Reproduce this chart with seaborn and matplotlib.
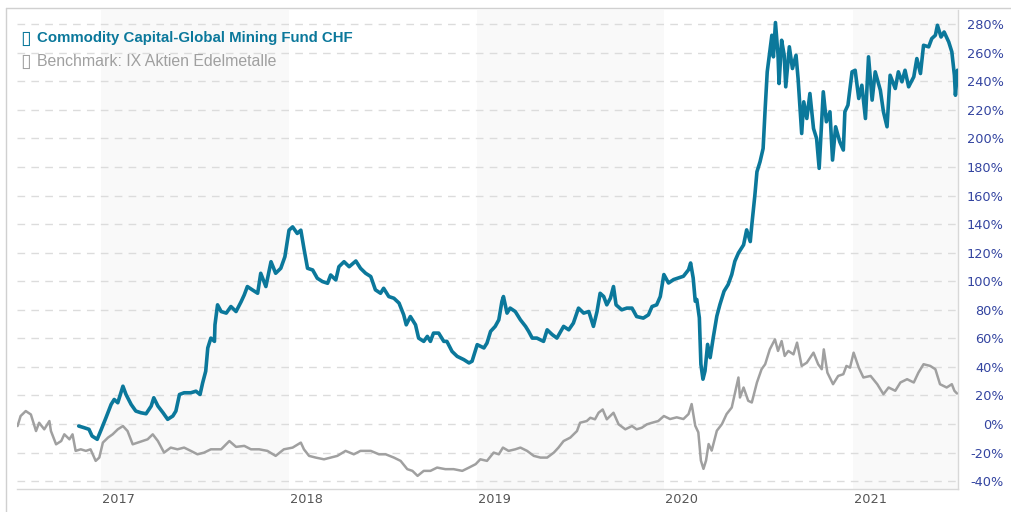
import pandas as pd
import numpy as np
import matplotlib
matplotlib.use("Agg")
import matplotlib.pyplot as plt
import matplotlib.transforms as mtransforms
from matplotlib.lines import Line2D
import seaborn as sns

# fund: Commodity Capital-Global Mining Fund CHF (performance in %)
fund_dates = [
    "2016-11-18", "2016-11-28", "2016-12-08", "2016-12-14", "2016-12-24", "2017-01-01",
    "2017-01-10", "2017-01-20", "2017-01-26", "2017-02-02", "2017-02-12", "2017-02-18",
    "2017-02-28", "2017-03-09", "2017-03-19", "2017-03-29", "2017-04-08", "2017-04-13",
    "2017-04-21", "2017-05-01", "2017-05-10", "2017-05-20", "2017-05-26", "2017-06-02",
    "2017-06-11", "2017-06-24", "2017-07-04", "2017-07-12", "2017-07-17", "2017-07-23",
    "2017-07-27", "2017-08-02", "2017-08-09", "2017-08-10", "2017-08-15", "2017-08-22",
    "2017-09-01", "2017-09-10", "2017-09-20", "2017-09-30", "2017-10-06", "2017-10-12",
    "2017-10-22", "2017-11-01", "2017-11-07", "2017-11-17", "2017-11-27", "2017-12-06",
    "2017-12-16", "2017-12-24", "2018-01-01", "2018-01-08", "2018-01-17", "2018-01-24",
    "2018-01-30", "2018-02-06", "2018-02-16", "2018-02-25", "2018-03-07", "2018-03-17",
    "2018-03-23", "2018-04-02", "2018-04-08", "2018-04-18", "2018-04-28", "2018-05-11",
    "2018-05-20", "2018-05-30", "2018-06-09", "2018-06-18", "2018-06-28", "2018-07-04",
    "2018-07-14", "2018-07-24", "2018-08-03", "2018-08-12", "2018-08-17", "2018-08-25",
    "2018-09-04", "2018-09-10", "2018-09-20", "2018-09-27", "2018-10-03", "2018-10-09",
    "2018-10-19", "2018-10-29", "2018-11-04", "2018-11-14", "2018-11-24", "2018-12-07",
    "2018-12-17", "2018-12-23", "2019-01-02", "2019-01-15", "2019-01-21", "2019-01-28",
    "2019-02-06", "2019-02-13", "2019-02-19", "2019-02-22", "2019-03-01", "2019-03-07",
    "2019-03-17", "2019-03-27", "2019-04-06", "2019-04-12", "2019-04-19", "2019-04-28",
    "2019-05-11", "2019-05-18", "2019-05-28", "2019-06-06", "2019-06-19", "2019-06-29",
    "2019-07-08", "2019-07-18", "2019-07-28", "2019-08-07", "2019-08-16", "2019-08-23",
    "2019-08-29", "2019-09-05", "2019-09-11", "2019-09-18", "2019-09-24", "2019-09-29",
    "2019-10-10", "2019-10-20", "2019-10-30", "2019-11-08", "2019-11-21", "2019-12-01",
    "2019-12-08", "2019-12-17", "2019-12-24", "2019-12-31", "2020-01-09", "2020-01-19",
    "2020-01-28", "2020-02-07", "2020-02-17", "2020-02-21", "2020-02-26", "2020-03-01",
    "2020-03-04", "2020-03-09", "2020-03-12", "2020-03-16", "2020-03-20", "2020-03-25",
    "2020-03-30", "2020-04-05", "2020-04-12", "2020-04-18", "2020-04-26", "2020-05-04",
    "2020-05-11", "2020-05-17", "2020-05-24", "2020-06-03", "2020-06-09", "2020-06-16",
    "2020-06-19", "2020-06-25", "2020-06-29", "2020-07-05", "2020-07-11", "2020-07-15",
    "2020-07-19", "2020-07-24", "2020-07-28", "2020-07-31", "2020-08-04", "2020-08-09",
    "2020-08-11", "2020-08-16", "2020-08-21", "2020-08-24", "2020-08-31", "2020-09-06",
    "2020-09-13", "2020-09-17", "2020-09-24", "2020-09-28", "2020-10-04", "2020-10-10",
    "2020-10-17", "2020-10-23", "2020-10-28", "2020-11-05", "2020-11-11", "2020-11-18",
    "2020-11-23", "2020-11-29", "2020-12-07", "2020-12-14", "2020-12-17", "2020-12-23",
    "2020-12-31", "2021-01-06", "2021-01-13", "2021-01-19", "2021-01-26", "2021-02-01",
    "2021-02-08", "2021-02-14", "2021-02-24", "2021-03-02", "2021-03-09", "2021-03-15",
    "2021-03-25", "2021-03-31", "2021-04-07", "2021-04-13", "2021-04-20", "2021-04-30",
    "2021-05-06", "2021-05-13", "2021-05-19", "2021-05-29", "2021-06-04", "2021-06-11",
    "2021-06-15", "2021-06-22", "2021-06-28", "2021-07-07", "2021-07-13", "2021-07-18",
    "2021-07-20", "2021-07-24",
]
fund_values = [
    -1.4, -2.5, -3.7, -8.4, -10.7, -3.7,
    4.4, 13.7, 17.2, 14.9, 26.5, 20.7,
    13.7, 9.1, 7.9, 7.2, 12.6, 18.4,
    12.6, 7.9, 3.3, 5.6, 9.1, 20.7,
    21.9, 21.9, 23.0, 20.7, 28.8, 37.0,
    53.3, 60.2, 57.9, 69.5, 83.5, 78.8,
    77.7, 82.3, 78.8, 85.8, 90.5, 96.3,
    93.9, 91.6, 105.6, 96.3, 113.7, 105.6,
    109.1, 117.2, 135.8, 138.1, 133.5, 135.8,
    123.0, 109.1, 107.9, 102.1, 99.8, 98.6,
    104.4, 100.9, 110.2, 113.7, 110.2, 114.2,
    109.1, 105.6, 103.3, 94.0, 91.6, 95.1,
    89.3, 88.1, 84.7, 76.5, 69.5, 75.3,
    69.5, 60.2, 57.9, 61.4, 57.9, 63.7,
    63.7, 57.9, 57.9, 50.9, 47.4, 45.1,
    42.8, 44.0, 55.6, 53.3, 56.7, 64.9,
    68.4, 73.0, 85.8, 89.3, 77.7, 81.2,
    78.8, 73.0, 68.4, 64.9, 60.2, 60.2,
    57.9, 66.0, 62.6, 60.2, 68.4, 66.0,
    70.7, 81.2, 77.7, 78.8, 68.4, 78.8,
    91.6, 89.3, 83.5, 88.1, 96.3, 83.5,
    80.0, 81.2, 81.2, 75.3, 74.2, 76.5,
    82.3, 83.5, 89.3, 104.7, 98.8, 101.2,
    102.3, 103.5, 108.1, 112.8, 102.3, 86.0,
    87.2, 74.4, 41.9, 31.4, 37.2, 55.8,
    46.5, 60.5, 75.6, 83.7, 93.0, 97.7,
    104.7, 114.0, 119.8, 125.5, 136.0, 127.8,
    139.4, 160.4, 176.7, 183.7, 193.0, 221.0,
    246.7, 260.7, 272.3, 257.2, 281.2, 258.3,
    238.5, 268.8, 258.3, 236.2, 264.2, 249.0,
    258.3, 242.0, 203.5, 225.7, 214.0, 231.5,
    207.0, 200.0, 179.1, 232.7, 211.7, 218.7,
    184.9, 208.2, 197.7, 191.9, 218.7, 223.4,
    246.7, 247.8, 228.0, 237.3, 214.0, 257.2,
    226.9, 246.7, 233.8, 218.7, 208.2, 244.3,
    235.0, 246.7, 239.7, 247.8, 236.2, 243.2,
    256.0, 245.5, 265.3, 264.2, 270.0, 272.3,
    279.3, 271.1, 274.6, 267.6, 260.7, 244.3,
    230.3, 247.8,
]

# benchmark: IX Aktien Edelmetalle (performance in %)
bench_dates = [
    "2016-07-22", "2016-07-28", "2016-08-07", "2016-08-17", "2016-08-27", "2016-09-02",
    "2016-09-12", "2016-09-22", "2016-09-25", "2016-10-05", "2016-10-15", "2016-10-21",
    "2016-10-31", "2016-11-06", "2016-11-12", "2016-11-22", "2016-12-02", "2016-12-11",
    "2016-12-21", "2016-12-28", "2017-01-04", "2017-01-14", "2017-01-23", "2017-02-02",
    "2017-02-12", "2017-02-21", "2017-03-03", "2017-03-13", "2017-03-22", "2017-04-01",
    "2017-04-11", "2017-04-21", "2017-05-03", "2017-05-16", "2017-05-29", "2017-06-11",
    "2017-06-24", "2017-07-07", "2017-07-20", "2017-08-02", "2017-08-22", "2017-09-07",
    "2017-09-20", "2017-10-06", "2017-10-19", "2017-11-04", "2017-11-20", "2017-12-06",
    "2017-12-22", "2018-01-08", "2018-01-24", "2018-01-30", "2018-02-09", "2018-02-22",
    "2018-03-10", "2018-03-23", "2018-04-05", "2018-04-21", "2018-05-07", "2018-05-20",
    "2018-06-09", "2018-06-25", "2018-07-08", "2018-07-24", "2018-08-06", "2018-08-19",
    "2018-08-29", "2018-09-08", "2018-09-20", "2018-10-03", "2018-10-16", "2018-11-01",
    "2018-11-17", "2018-12-04", "2018-12-17", "2018-12-30", "2019-01-08", "2019-01-21",
    "2019-02-03", "2019-02-13", "2019-02-21", "2019-03-04", "2019-03-17", "2019-03-27",
    "2019-04-09", "2019-04-22", "2019-05-05", "2019-05-18", "2019-05-31", "2019-06-09",
    "2019-06-19", "2019-07-02", "2019-07-15", "2019-07-21", "2019-08-03", "2019-08-10",
    "2019-08-19", "2019-08-26", "2019-09-03", "2019-09-11", "2019-09-24", "2019-10-04",
    "2019-10-17", "2019-10-30", "2019-11-08", "2019-11-18", "2019-11-28", "2019-12-08",
    "2019-12-20", "2019-12-31", "2020-01-12", "2020-01-25", "2020-02-07", "2020-02-17",
    "2020-02-23", "2020-03-01", "2020-03-07", "2020-03-12", "2020-03-17", "2020-03-22",
    "2020-03-27", "2020-04-02", "2020-04-12", "2020-04-22", "2020-05-01", "2020-05-11",
    "2020-05-21", "2020-05-24", "2020-05-27", "2020-06-03", "2020-06-12", "2020-06-19",
    "2020-06-29", "2020-07-08", "2020-07-15", "2020-07-24", "2020-08-03", "2020-08-09",
    "2020-08-16", "2020-08-22", "2020-08-29", "2020-09-08", "2020-09-15", "2020-09-24",
    "2020-10-04", "2020-10-17", "2020-10-26", "2020-11-02", "2020-11-06", "2020-11-13",
    "2020-11-24", "2020-12-04", "2020-12-14", "2020-12-20", "2020-12-27", "2021-01-03",
    "2021-01-13", "2021-01-22", "2021-02-05", "2021-02-18", "2021-03-02", "2021-03-12",
    "2021-03-25", "2021-04-04", "2021-04-17", "2021-04-30", "2021-05-09", "2021-05-19",
    "2021-06-01", "2021-06-11", "2021-06-20", "2021-07-03", "2021-07-13", "2021-07-18",
    "2021-07-23",
]
bench_values = [
    -1.4, 5.6, 9.1, 6.7, -4.9, 0.9,
    -3.7, 2.1, -4.9, -14.2, -11.9, -7.2,
    -10.7, -7.2, -18.8, -17.7, -18.8, -17.7,
    -25.8, -23.5, -13.0, -9.5, -7.2, -3.7,
    -1.4, -4.9, -14.2, -13.0, -11.9, -10.7,
    -7.2, -11.9, -20.0, -16.5, -17.7, -16.5,
    -18.8, -21.2, -20.0, -17.7, -17.7, -11.9,
    -16.0, -15.3, -17.7, -17.7, -18.8, -22.3,
    -17.7, -16.5, -13.0, -17.7, -22.3, -23.5,
    -24.7, -23.5, -22.3, -18.8, -21.2, -18.8,
    -18.8, -21.2, -21.2, -23.5, -25.8, -31.6,
    -32.8, -36.3, -32.8, -32.8, -30.5, -31.6,
    -31.6, -32.8, -30.5, -28.1, -24.7, -25.8,
    -20.0, -21.2, -16.5, -18.8, -17.7, -16.5,
    -18.8, -22.3, -23.5, -23.5, -20.0, -16.5,
    -11.9, -9.5, -4.9, 0.9, 2.1, 4.4,
    3.3, 7.9, 10.2, 3.3, 7.9, -0.2,
    -3.7, -1.4, -3.7, -2.6, -0.2, 0.9,
    2.1, 5.6, 3.5, 4.7, 3.5, 7.0,
    14.0, -1.2, -5.8, -25.6, -31.4, -25.6,
    -14.0, -18.6, -4.7, 0.0, 7.0, 11.6,
    27.9, 32.6, 18.6, 25.6, 16.3, 15.1,
    29.1, 38.4, 41.9, 52.3, 59.3, 51.2,
    58.1, 47.7, 51.2, 48.8, 57.0, 40.7,
    43.0, 50.0, 41.9, 38.4, 52.3, 36.0,
    27.9, 33.7, 34.9, 40.7, 39.5, 50.0,
    39.5, 32.6, 33.7, 27.9, 20.9, 25.6,
    23.3, 29.1, 31.4, 29.1, 36.0, 41.9,
    40.7, 38.4, 27.9, 25.6, 27.9, 23.3,
    21.4,
]

fund_label = "Commodity Capital-Global Mining Fund CHF"
bench_label = "Benchmark: IX Aktien Edelmetalle"
years = [2017, 2018, 2019, 2020, 2021]
shaded_years = [2017, 2019, 2021]
y_ticks = list(range(-40, 281, 20))

fund_color = "#0b789b"
bench_color = "#a0a0a0"

fund = pd.DataFrame({"date": pd.to_datetime(fund_dates), "pct": fund_values})
bench = pd.DataFrame({"date": pd.to_datetime(bench_dates), "pct": bench_values})

sns.set_style("white")
plt.rcParams["font.family"] = ["DejaVu Sans"]

fig = plt.figure(figsize=(10.11, 5.12), dpi=100)
ax = fig.add_axes([17 / 1011, 23 / 512, 941 / 1011, 479 / 512])

x_left = pd.Timestamp("2016-07-21")
x_right = pd.Timestamp("2021-07-25")

for y in shaded_years:
    ax.axvspan(pd.Timestamp(f"{y}-01-01"), min(pd.Timestamp(f"{y + 1}-01-01"), x_right),
               color="#f9f9f9", zorder=0, lw=0)

for t in y_ticks:
    ax.axhline(t, color="#dcdcdc", lw=1, linestyle=(0, (5.5, 4.5)), zorder=1)

sns.lineplot(data=bench, x="date", y="pct", ax=ax, color=bench_color, lw=1.8,
             estimator=None, sort=False, zorder=3)
sns.lineplot(data=fund, x="date", y="pct", ax=ax, color=fund_color, lw=2.6,
             estimator=None, sort=False, zorder=4)

ax.set_xlim(x_left, x_right)
ax.set_ylim(-45.5, 290)
ax.set_xlabel("")
ax.set_ylabel("")

# right side percent axis
ax.yaxis.tick_right()
ax.set_yticks(y_ticks)
ax.set_yticklabels([f"{t}%" for t in y_ticks])
ax.tick_params(axis="y", length=0, pad=33, labelsize=9.3, labelcolor="#3344a0")
for lab in ax.get_yticklabels():
    lab.set_horizontalalignment("right")

# year labels, left aligned at the start of each year
ax.set_xticks([pd.Timestamp(f"{y}-01-01") for y in years])
ax.set_xticklabels([str(y) for y in years])
ax.tick_params(axis="x", length=0, pad=3, labelsize=9.3, labelcolor="#555555")
offset = mtransforms.ScaledTranslation(1 / 100, 0, fig.dpi_scale_trans)
for lab in ax.get_xticklabels():
    lab.set_horizontalalignment("left")
    lab.set_transform(lab.get_transform() + offset)

for side in ["top", "left"]:
    ax.spines[side].set_visible(False)
for side in ["right", "bottom"]:
    ax.spines[side].set_color("#d8d8d8")
    ax.spines[side].set_linewidth(1)

# legend text in the upper left
ax.text(3 / 941, 1 - 28 / 479, "\u25af", transform=ax.transAxes,
        color=fund_color, fontsize=14, va="center", ha="left")
ax.text(20 / 941, 1 - 28 / 479, fund_label, transform=ax.transAxes,
        color=fund_color, fontsize=10.8, fontweight="bold", va="center", ha="left",
        family=["Liberation Sans", "DejaVu Sans"])
ax.text(3 / 941, 1 - 51 / 479, "\u25af", transform=ax.transAxes,
        color=bench_color, fontsize=14, va="center", ha="left")
ax.text(20 / 941, 1 - 51 / 479, bench_label, transform=ax.transAxes,
        color=bench_color, fontsize=11.4, va="center", ha="left",
        family=["Liberation Sans", "DejaVu Sans"])

# outer frame lines (top and left)
fig.add_artist(Line2D([6 / 1011, 1], [1 - 8 / 512, 1 - 8 / 512], color="#d0d0d0", lw=1))
fig.add_artist(Line2D([6 / 1011, 6 / 1011], [0, 1 - 8 / 512], color="#d0d0d0", lw=1))

fig.savefig("out.png", dpi=100, facecolor="white")
